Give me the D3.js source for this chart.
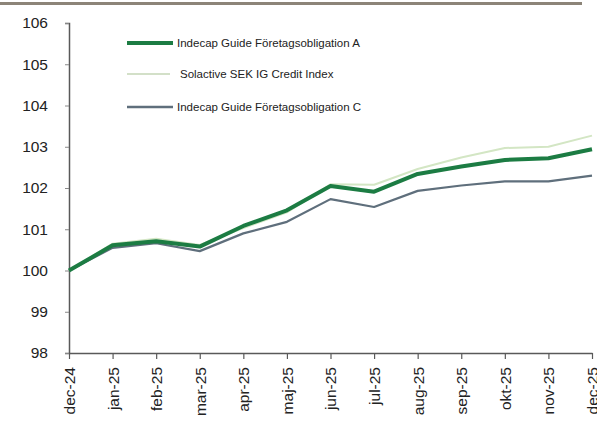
<!DOCTYPE html>
<html>
<head>
<meta charset="utf-8">
<script src="https://cdn.jsdelivr.net/npm/d3@7"></script>
<style>
  body { margin: 0; background: #fff; }
  text { font-family: "Liberation Sans", Arial, sans-serif; }
</style>
</head>
<body>
<div id="chart"></div>
<script>
// Month labels on x axis
var months = ["dec-24", "jan-25", "feb-25", "mar-25", "apr-25", "maj-25", "jun-25",
              "jul-25", "aug-25", "sep-25", "okt-25", "nov-25", "dec-25"];

// Series values (index, start = 100)
var fundA = [100, 100.61, 100.71, 100.58, 101.08, 101.46, 102.05, 101.91, 102.34, 102.52, 102.68, 102.72, 102.94];
var solactive = [100, 100.65, 100.77, 100.62, 101.03, 101.41, 102.09, 102.08, 102.46, 102.74, 102.97, 103.0, 103.27];
var fundC = [100, 100.55, 100.66, 100.47, 100.9, 101.18, 101.73, 101.54, 101.93, 102.06, 102.16, 102.16, 102.3];

var yTicks = [98, 99, 100, 101, 102, 103, 104, 105, 106];

var seriesNames = ["Indecap Guide Företagsobligation A", "Solactive SEK IG Credit Index", "Indecap Guide Företagsobligation C"];

var svgWidth = 597;
var svgHeight = 430;

var margin = { top: 23, right: 5, bottom: 77, left: 69 };
var width = svgWidth - margin.left - margin.right;
var height = svgHeight - margin.top - margin.bottom;

var svg = d3.select("#chart")
  .append("svg")
  .attr("width", svgWidth)
  .attr("height", svgHeight);

// grey rule across the top
svg.append("rect")
  .attr("x", 0)
  .attr("y", 2)
  .attr("width", 582)
  .attr("height", 3)
  .attr("fill", "#8c8478");

var chartGroup = svg.append("g")
  .attr("transform", `translate(${margin.left}, ${margin.top})`);

var xScale = d3.scalePoint().domain(months).range([0, width]);
var yScale = d3.scaleLinear().domain([98, 106]).range([height, 0]);

// y axis
var yAxis = chartGroup.append("g")
  .call(d3.axisLeft(yScale).tickValues(yTicks).tickSize(4).tickPadding(17).tickFormat(d3.format("d")));
yAxis.select(".domain").attr("stroke", "#595959").attr("stroke-width", 1.5);
yAxis.selectAll(".tick line").attr("stroke", "#888");
yAxis.selectAll("text").attr("font-size", "15.5px").attr("fill", "#222");

// x axis
var xAxis = chartGroup.append("g")
  .attr("transform", `translate(0, ${height})`)
  .call(d3.axisBottom(xScale).tickSize(6).tickSizeOuter(0));
xAxis.select(".domain").attr("stroke", "#595959").attr("stroke-width", 1.5);
xAxis.selectAll(".tick line").attr("stroke", "#595959").attr("stroke-width", 1.2);
xAxis.selectAll("text")
  .attr("font-size", "15.5px")
  .attr("fill", "#222")
  .attr("text-anchor", "end")
  .attr("transform", "rotate(-90)")
  .attr("x", -14)
  .attr("y", 0)
  .attr("dy", "0.35em");

var line = d3.line()
  .x((d, i) => xScale(months[i]))
  .y(d => yScale(d));

var series = [
  { name: seriesNames[1], values: solactive, color: "#d3e6c4", w: 2 },
  { name: seriesNames[2], values: fundC, color: "#5f6f7c", w: 2.2 },
  { name: seriesNames[0], values: fundA, color: "#1c7c43", w: 4 }
];

chartGroup.selectAll(".series")
  .data(series)
  .enter()
  .append("path")
  .attr("class", "series")
  .attr("d", d => line(d.values))
  .attr("fill", "none")
  .attr("stroke", d => d.color)
  .attr("stroke-width", d => d.w)
  .attr("stroke-linejoin", "round");

// legend
var legend = [
  { name: seriesNames[0], color: "#1c7c43", w: 4, y: 43, x2: 173, tx: 177 },
  { name: seriesNames[1], color: "#d3e0c8", w: 2, y: 74, x2: 170, tx: 180 },
  { name: seriesNames[2], color: "#5f6f7c", w: 2.5, y: 107, x2: 173, tx: 177 }
];

var legendGroup = svg.append("g");
legendGroup.selectAll("line")
  .data(legend)
  .enter()
  .append("line")
  .attr("x1", 127)
  .attr("x2", d => d.x2)
  .attr("y1", d => d.y)
  .attr("y2", d => d.y)
  .attr("stroke", d => d.color)
  .attr("stroke-width", d => d.w);

legendGroup.selectAll("text")
  .data(legend)
  .enter()
  .append("text")
  .attr("x", d => d.tx)
  .attr("y", d => d.y)
  .attr("dy", "0.35em")
  .attr("font-size", "11.5px")
  .attr("fill", "#222")
  .text(d => d.name);
</script>
</body>
</html>
